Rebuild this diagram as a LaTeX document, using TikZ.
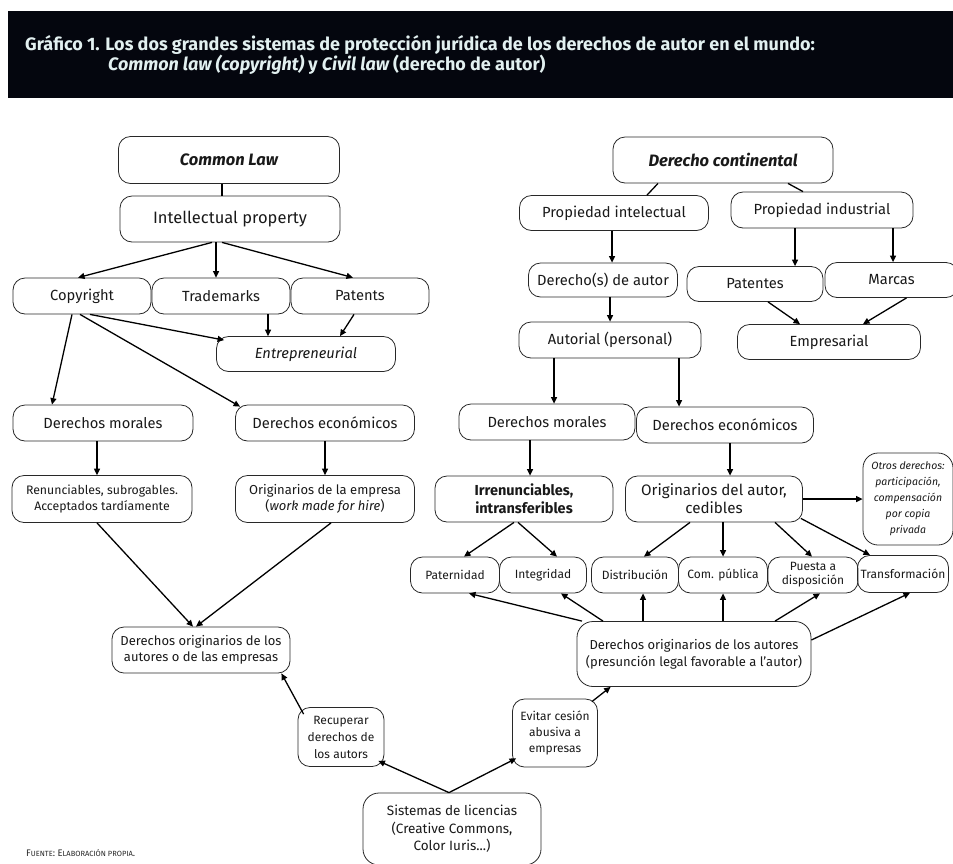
\documentclass[tikz,border=0pt]{standalone}
\usepackage{fontspec}
\setmainfont{Fira Sans}
\usetikzlibrary{arrows.meta,calc}
\definecolor{hdr}{RGB}{4,6,14}
\definecolor{ttl}{RGB}{226,240,240}
\definecolor{edge}{RGB}{40,40,40}
\begin{document}
\begin{tikzpicture}[x=1pt,y=-1pt,
  bx/.style={draw=edge, line width=0.8pt, rounded corners=12pt, align=center, inner sep=1pt, text=black!90, font=\fontsize{14.7}{17}\selectfont},
  sz/.style 2 args={minimum width=#1pt, minimum height=#2pt},
  big/.style={font=\fontsize{16.5}{19}\selectfont},
  hd/.style={font=\fontsize{16.5}{18}\selectfont\bfseries\itshape},
  med/.style={font=\fontsize{13}{16}\selectfont},
  sm/.style={font=\fontsize{12}{17}\selectfont},
  arr/.style={-{Triangle[length=6.5pt,width=6pt]}, line width=1.3pt, draw=black},
  ln/.style={line width=1.3pt, draw=black},
]
\useasboundingbox (0,0) rectangle (953,863);
% header
\fill[hdr] (8,11) rectangle (953,98);
\node[anchor=west, text=ttl, font=\fontsize{18}{20}\selectfont\bfseries, inner sep=0pt] (t1) at (25,45) {Gráfico 1. Los dos grandes sistemas de protección jurídica de los derechos de autor en el mundo:};
\node[anchor=west, text=ttl, font=\fontsize{18}{20}\selectfont\bfseries, inner sep=0pt] (t2) at (108,65) {\itshape Common law (copyright) \upshape y \itshape Civil law \upshape(derecho de autor)};

% ---------- left: Common Law ----------
\node[bx, sz={221}{47}, hd] (cl) at (229,160) {Common Law};
\node[bx, sz={220}{46}, big] (ip) at (230,219) {Intellectual property};
\node[bx, sz={138}{36}] (cop) at (82,296) {Copyright};
\node[bx, sz={138}{36}] (tm) at (221,296) {Trademarks};
\node[bx, sz={138}{36}] (pat) at (360,296) {Patents};
\node[bx, sz={179}{35}, font=\fontsize{14.7}{17}\selectfont\itshape] (ent) at (306,354) {Entrepreneurial};
\node[bx, sz={180}{36}] (dml) at (103,423) {Derechos morales};
\node[bx, sz={179}{36}] (del) at (325,423) {Derechos económicos};
\node[bx, sz={180}{47}, font=\fontsize{12.3}{16}\selectfont] (ren) at (102,499) {Renunciables, subrogables.\\Acceptados tardíamente};
\node[bx, sz={179}{47}, med] (ore) at (325,499) {Originarios de la empresa\\(\textit{work made for hire})};
\node[bx, sz={178}{46}, font=\fontsize{13}{16}\selectfont] (dol) at (201,650) {Derechos originarios de los\\autores o de las empresas};
\node[bx, sz={86}{59}, font=\fontsize{12}{17}\selectfont] (rec) at (341,737) {Recuperar\\derechos de\\los autors};
\node[bx, sz={85}{68}, font=\fontsize{12}{16}\selectfont] (evi) at (555,733) {Evitar cesión\\abusiva a\\empresas};
\node[bx, sz={178}{72}, font=\fontsize{13.5}{17.5}\selectfont, rounded corners=16pt] (sis) at (452,829) {Sistemas de licencias\\(Creative Commons,\\Color Iuris...)};

% ---------- right: Derecho continental ----------
\node[bx, sz={220}{46}, hd] (dc) at (723,160) {Derecho continental};
\node[bx, sz={189}{35}] (pi) at (614,213) {Propiedad intelectual};
\node[bx, sz={182}{36}] (pind) at (822,210) {Propiedad industrial};
\node[bx, sz={149}{34}] (da) at (603,280) {Derecho(s) de autor};
\node[bx, sz={136}{35}] (pte) at (755,284) {Patentes};
\node[bx, sz={133}{35}] (mar) at (891.5,280) {Marcas};
\node[bx, sz={183}{35}] (emp) at (829,342) {Empresarial};
\node[bx, sz={182}{36}] (aut) at (610,340) {Autorial (personal)};
\node[bx, sz={176}{36}] (dmr) at (547,422) {Derechos morales};
\node[bx, sz={177}{36}] (der) at (725,425) {Derechos económicos};
\node[bx, sz={178}{46}, font=\fontsize{14.5}{18}\selectfont\bfseries] (irr) at (524,499) {Irrenunciables,\\intransferibles};
\node[bx, sz={177}{46}, font=\fontsize{15.2}{18}\selectfont] (ora) at (714,499) {Originarios del autor,\\cedibles};
\node[bx, sz={90}{92}, rounded corners=15pt, font=\fontsize{10.5}{16}\selectfont\itshape] (otr) at (908,499) {Otros derechos:\\participación,\\compensación\\por copia\\privada};
\node[bx, sz={89}{36}, sm] (pat2) at (455,575) {Paternidad};
\node[bx, sz={87}{36}, sm] (int) at (543,575) {Integridad};
\node[bx, sz={87}{36}, sm] (dis) at (635,575) {Distribución};
\node[bx, sz={89}{36}, sm] (com) at (723,575) {Com. pública};
\node[bx, sz={90}{36}, font=\fontsize{12}{14}\selectfont] (pue) at (813,575) {Puesta a\\disposición};
\node[bx, sz={91}{37}, sm] (tra) at (903,574) {Transformación};
\node[bx, sz={234}{65}, font=\fontsize{13}{17}\selectfont, rounded corners=16pt] (dor) at (694,654) {Derechos originarios de los autores\\(presunción legal favorable a l'autor)};

% source
\node[anchor=west, inner sep=0pt, text=black!85, font=\fontsize{9.5}{11}\selectfont] (src) at (26,853) {F{\fontsize{7.5}{9}\selectfont UENTE}: E{\fontsize{7.5}{9}\selectfont LABORACIÓN PROPIA}.};

% ---------- connectors left ----------
\draw[ln] ([xshift=-7pt]cl.south) -- ([xshift=-8pt]ip.north);
\draw[arr] ([xshift=-18pt]ip.south) -- ([xshift=-4pt]cop.north);
\draw[arr] ([xshift=-14pt]ip.south) -- ([xshift=-5pt]tm.north);
\draw[arr] ([xshift=-8pt]ip.south) -- ([xshift=-7pt]pat.north);
\draw[arr] ([xshift=47pt]tm.south) -- ([xshift=-38pt]ent.north);
\draw[arr] ([xshift=-6pt]pat.south) -- ([xshift=34pt]ent.north);
\draw[arr] ([xshift=8pt]cop.south) -- ([xshift=8pt,yshift=-4pt]ent.north west);
\draw[arr] ([xshift=-10pt]cop.south) -- ([xshift=-51pt]dml.north);
\draw[arr] ([xshift=-2pt]cop.south) -- ([xshift=5pt,yshift=-2pt]del.north west);
\draw[arr] ([xshift=-6pt]dml.south) -- ([xshift=-5pt]ren.north);
\draw[arr] (del.south) -- (ore.north);
\draw[arr] ([xshift=-5pt]ren.south) -- ([xshift=-8pt]dol.north);
\draw[arr] ([xshift=6pt]ore.south) -- ([xshift=-5pt]dol.north);
\draw[arr] ([xshift=6pt,yshift=-7pt]rec.north west) -- ([xshift=-9pt]dol.south east);
\draw[arr] ([xshift=-3pt]sis.north) -- ([xshift=-6pt,yshift=6pt]rec.south east);
\draw[arr] ([xshift=-3pt]sis.north) -- ([xshift=4pt,yshift=9pt]evi.south west);
\draw[arr] ([xshift=-6pt,yshift=-3pt]evi.north east) -- ([xshift=34pt]dor.south west);

% ---------- connectors right ----------
\draw[ln] ([xshift=-65pt]dc.south) -- ([xshift=33pt]pi.north);
\draw[ln] ([xshift=65pt]dc.south) -- ([xshift=-19pt]pind.north);
\draw[arr] ([xshift=-2pt]pi.south) -- ([xshift=9pt]da.north);
\draw[arr] ([xshift=-27pt]pind.south) -- ([xshift=40pt]pte.north);
\draw[arr] ([xshift=71pt]pind.south) -- ([xshift=1.5pt]mar.north);
\draw[arr] ([xshift=13pt]pte.south) -- ([xshift=-29pt]emp.north);
\draw[arr] ([xshift=15pt]mar.south) -- ([xshift=34pt]emp.north);
\draw[arr] ([xshift=7pt]da.south) -- (aut.north);
\draw[arr] ([xshift=-56pt]aut.south) -- ([xshift=7pt]dmr.north);
\draw[arr] ([xshift=69pt]aut.south) -- ([xshift=-46pt]der.north);
\draw[arr] ([xshift=-17pt]dmr.south) -- ([xshift=6pt]irr.north);
\draw[arr] ([xshift=5pt]der.south) -- ([xshift=16pt]ora.north);
\draw[arr] (ora.east) -- (otr.west);
\draw[arr] ([xshift=-10pt]irr.south) -- ([xshift=9pt]pat2.north);
\draw[arr] ([xshift=-6pt]irr.south) -- ([xshift=14pt]int.north);
\draw[arr] ([xshift=-24pt]ora.south) -- ([xshift=9pt]dis.north);
\draw[arr] ([xshift=9pt]ora.south) -- (com.north);
\draw[arr] ([xshift=61pt]ora.south) -- ([xshift=-1pt]pue.north);
\draw[arr] ([xshift=-2pt,yshift=4pt]ora.south east) -- ([xshift=-33pt]tra.north);
\draw[arr] ([xshift=-112pt]dor.north) -- ([xshift=14pt]pat2.south);
\draw[arr] ([xshift=-91pt]dor.north) -- ([xshift=18pt]int.south);
\draw[arr] ([xshift=-51pt]dor.north) -- ([xshift=8pt]dis.south);
\draw[arr] ([xshift=29pt]dor.north) -- (com.south);
\draw[arr] ([xshift=81pt]dor.north) -- ([xshift=7pt]pue.south);
\draw[arr] ([yshift=14pt]dor.east) -- ([xshift=7pt]tra.south);
\end{tikzpicture}
\end{document}
